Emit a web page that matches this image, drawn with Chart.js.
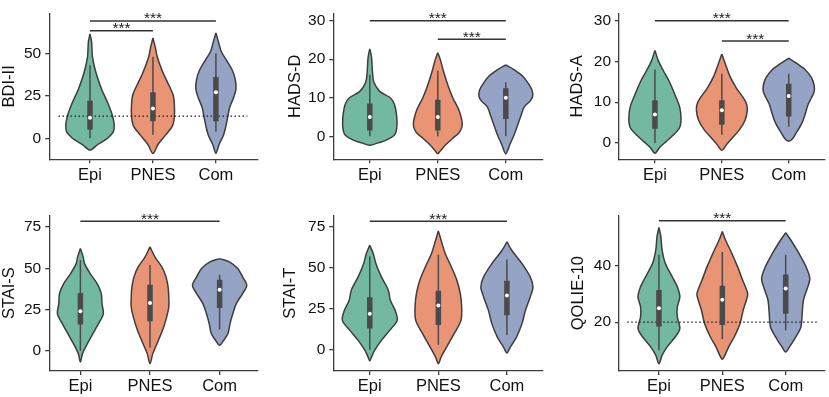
<!DOCTYPE html>
<html>
<head>
<meta charset="utf-8">
<script src="https://cdn.jsdelivr.net/npm/chart.js@4.4.1/dist/chart.umd.min.js"></script>
<style>
  html, body { margin: 0; padding: 0; background: #fff; }
  #wrap { position: relative; width: 829px; height: 397px; overflow: hidden; }
  .panel { position: absolute; }
</style>
</head>
<body>
<div id="wrap"></div>
<script>
const groups = ['Epi', 'PNES', 'Com'];
const fills = ['#73b9a2', '#e99575', '#95a3c4'];

// violin outlines: [value, half width in category units], top to bottom
const bdiEpi  = [[61.4,0],[56.8,.025],[47.6,.04],[38.5,.095],[29.3,.18],[20.1,.29],[12.8,.36],[7.3,.385],[3.7,.37],[0,.28],[-3.7,.12],[-7,0]];
const bdiPnes = [[59,0],[53,.04],[47.6,.07],[38.5,.16],[33,.23],[25.6,.32],[20,.34],[12.8,.34],[7.3,.31],[1.8,.2],[-3.7,.08],[-9,0]];
const bdiCom  = [[62,0],[56.8,.04],[51,.085],[45.8,.17],[40,.26],[35,.305],[29.3,.32],[23.8,.28],[18.3,.22],[12.8,.19],[7.3,.16],[1.8,.12],[-3.7,.05],[-8.8,0]];
const hadsdEpi  = [[22.7,0],[20.5,.025],[16.5,.04],[14,.06],[11.6,.15],[10,.3],[8.4,.36],[6,.39],[3.5,.4],[1.5,.39],[0.3,.36],[-0.9,.25],[-1.7,.12],[-2.3,0]];
const hadsdPnes = [[21.7,0],[19.7,.04],[16.5,.09],[13.2,.15],[10,.22],[6.8,.31],[3.1,.36],[1.1,.32],[-0.5,.22],[-2.1,.12],[-3.7,.04],[-4.5,0]];
const hadsdCom  = [[18.5,0],[17.3,.12],[15.6,.25],[14,.32],[12,.385],[10.4,.395],[9.2,.36],[7.6,.27],[5.2,.22],[2.7,.17],[0.3,.12],[-2.1,.06],[-4.5,0]];
const hadsaEpi  = [[22.7,0],[20.2,.05],[17.9,.12],[14.9,.22],[11.8,.3],[8.8,.37],[6.1,.39],[3.8,.37],[1.9,.27],[0.4,.17],[-1.1,.07],[-2.5,0]];
const hadsaPnes = [[21.8,0],[19.5,.05],[16.4,.12],[13.4,.22],[11.1,.32],[9.5,.37],[8,.38],[5.7,.35],[3.4,.27],[1.1,.15],[-0.4,.07],[-1.8,0]];
const hadsaCom  = [[20.8,0],[19.5,.12],[17.9,.25],[16,.34],[14.1,.38],[12.6,.38],[11.1,.34],[9.5,.29],[7.3,.25],[5,.2],[2.7,.12],[1.1,.06],[0.4,0]];
const staisEpi  = [[61.9,0],[56.9,.04],[52.8,.06],[46.8,.14],[40.7,.24],[34.7,.3],[28.6,.31],[22.6,.33],[16.5,.26],[10.5,.18],[4.4,.1],[-1.6,.03],[-6.7,0]];
const staisPnes = [[62.9,0],[56.9,.07],[50.8,.17],[44.8,.23],[38.7,.26],[32.7,.27],[26.6,.27],[20.6,.24],[12.5,.18],[4.4,.1],[-1.6,.04],[-7.7,0]];
const staisCom  = [[55.8,0],[53.8,.14],[49.8,.26],[44.8,.33],[39.7,.39],[34.7,.33],[28.6,.24],[22.6,.19],[16.5,.15],[10.5,.12],[6.5,.06],[3.4,0]];
const staitEpi  = [[63.7,0],[58.7,.05],[52.5,.09],[44.4,.17],[36.3,.27],[30.1,.3],[24,.37],[17.9,.4],[11.8,.29],[5.7,.17],[-0.4,.07],[-4.5,.025],[-6.9,0]];
const staitPnes = [[72.5,0],[66.8,.04],[58.7,.1],[50.5,.19],[42.4,.27],[34.2,.32],[26.1,.34],[17.9,.33],[9.8,.23],[1.6,.12],[-4.5,.04],[-8.6,0]];
const staitCom  = [[65.8,0],[60.7,.07],[52.5,.22],[44.4,.34],[38.3,.38],[32.2,.34],[24,.27],[15.9,.22],[7.7,.14],[1.6,.05],[-2,0]];
const qolEpi  = [[53.8,0],[50.5,.03],[45.7,.05],[41,.1],[36.2,.21],[32.6,.29],[29,.33],[25.5,.29],[21.9,.29],[17.7,.33],[14.8,.26],[11.2,.13],[8.2,.05],[5.2,0]];
const qolPnes = [[52.3,0],[49.3,.05],[44.5,.15],[39.8,.24],[35,.32],[30.2,.4],[27.9,.38],[24.3,.33],[19.5,.28],[14.8,.19],[11.2,.1],[8.2,.04],[6.8,0]];
const qolCom  = [[51.9,0],[49.3,.08],[44.5,.21],[39.8,.32],[35.6,.38],[32,.34],[27.9,.28],[23.1,.26],[18.3,.24],[14.8,.16],[11.2,.06],[9.4,0]];

// inner boxes: [whisker low, q1, median, q3, whisker high]
const bdiBox   = [[0,5,12,22,43],[2,10,17.5,27,48],[4,10,27,36,50]];
const hadsdBox = [[0,1.5,5,8.5,16],[0,1.5,5,9.5,17],[0,4.5,10,12.5,14]];
const hadsaBox = [[0,3.5,7,10.5,18],[2,4.5,8,10.5,17],[4,6.5,11.5,14.5,17]];
const staisBox = [[0,16,24,35,55],[2,18,29,40,52],[13,26,37,43,46]];
const staitBox = [[0,13,22,32,57],[3,15,27,36,58],[9,21,33,42,55]];
const qolBox   = [[10,18.5,25,31.5,44],[14,19,28,33,45],[17,23,32,37,44]];

// significance brackets: [from group, to group, height]
const bdiSig   = [[0,1,63.2],[0,2,69]];
const hadsdSig = [[0,2,30],[1,2,25.2]];
const hadsaSig = [[0,2,30],[1,2,25]];
const staisSig = [[0,2,78.4]];
const staitSig = [[0,2,78.4]];
const qolSig   = [[0,2,56.2]];

const bdiTicks = [0, 25, 50];
const hadsTicks = [0, 10, 20, 30];
const staiTicks = [0, 25, 50, 75];
const qolTicks = [20, 40];

const bdiCutoff = 13;
const qolCutoff = 20;

const panels = [
  { title: 'BDI-II',   violins: [bdiEpi, bdiPnes, bdiCom],       box: bdiBox,   sig: bdiSig,   ticks: bdiTicks,  cut: bdiCutoff, ymin: -12.4, ymax: 73.5, xmin: -0.648, xmax: 2.664 },
  { title: 'HADS-D',   violins: [hadsdEpi, hadsdPnes, hadsdCom], box: hadsdBox, sig: hadsdSig, ticks: hadsTicks, cut: null, ymin: -5.95, ymax: 31.9, xmin: -0.537, xmax: 2.537 },
  { title: 'HADS-A',   violins: [hadsaEpi, hadsaPnes, hadsaCom], box: hadsaBox, sig: hadsaSig, ticks: hadsTicks, cut: null, ymin: -4.0, ymax: 31.8, xmin: -0.537, xmax: 2.542 },
  { title: 'STAI-S',   violins: [staisEpi, staisPnes, staisCom], box: staisBox, sig: staisSig, ticks: staiTicks, cut: null, ymin: -12.1, ymax: 82, xmin: -0.448, xmax: 2.547 },
  { title: 'STAI-T',   violins: [staitEpi, staitPnes, staitCom], box: staitBox, sig: staitSig, ticks: staiTicks, cut: null, ymin: -13, ymax: 82, xmin: -0.532, xmax: 2.516 },
  { title: 'QOLIE-10', violins: [qolEpi, qolPnes, qolCom],       box: qolBox,   sig: qolSig,   ticks: qolTicks,  cut: qolCutoff, ymin: 2.6, ymax: 58.1, xmin: -0.63, xmax: 2.62 }
];

// where each panel sits on the page
const layout = [
  { left: 0,   top: 0,   w: 270, h: 195, yw: 49.2, xh: 35.7, padTop: 3,    padRight: 12.3, titlePad: 0 },
  { left: 280, top: 0,   w: 270, h: 195, yw: 53.3, xh: 35.7, padTop: 3,    padRight: 7.7,  titlePad: 6 },
  { left: 560, top: 0,   w: 269, h: 195, yw: 59,   xh: 35.7, padTop: 3,    padRight: 0,    titlePad: 8 },
  { left: 0,   top: 200, w: 270, h: 197, yw: 49.2, xh: 26,   padTop: 15.3, padRight: 12.3, titlePad: 0 },
  { left: 280, top: 200, w: 270, h: 197, yw: 53.3, xh: 26,   padTop: 15.3, padRight: 7.7,  titlePad: 1 },
  { left: 560, top: 200, w: 269, h: 197, yw: 59,   xh: 26,   padTop: 15.3, padRight: 2,    titlePad: 8.6 }
];

const FONT = "'Liberation Sans', Arial, Helvetica, sans-serif";
const ink = '#111';
const axisCol = '#3c3c3c';
const outline = '#3d3d3d';
const boxCol = '#4a4a4a';

Chart.defaults.font.family = FONT;

const starsPlugin = {
  id: 'stars',
  afterDatasetsDraw(chart, args, opts) {
    const { ctx, scales: { x, y } } = chart;
    ctx.save();
    ctx.font = '15.5px ' + FONT;
    ctx.fillStyle = '#1a1a1a';
    ctx.textAlign = 'center';
    ctx.textBaseline = 'alphabetic';
    opts.sig.forEach(([a, b, h]) => {
      const px = (x.getPixelForValue(a) + x.getPixelForValue(b)) / 2;
      ctx.fillText('***', px, y.getPixelForValue(h) + 2.5);
    });
    ctx.restore();
  }
};

const wrap = document.getElementById('wrap');

function makePanel(p, pos) {
  const div = document.createElement('div');
  div.className = 'panel';
  Object.assign(div.style, { left: pos.left + 'px', top: pos.top + 'px', width: pos.w + 'px', height: pos.h + 'px' });
  const cv = document.createElement('canvas');
  div.appendChild(cv);
  wrap.appendChild(div);

  const datasets = [];
  p.violins.forEach((v, i) => {
    const right = v.map(([y, w]) => ({ x: i + w, y }));
    const left = v.slice(0, -1).reverse().map(([y, w]) => ({ x: i - w, y }));
    datasets.push({
      data: right.concat(left), borderColor: outline, borderWidth: 1.5,
      backgroundColor: fills[i], fill: 'shape', tension: 0.3, pointRadius: 0, order: 5
    });
  });
  if (p.cut !== null) {
    datasets.push({
      data: [{ x: -0.5, y: p.cut }, { x: 2.5, y: p.cut }], borderColor: '#1a1a1a', borderWidth: 1.2,
      borderDash: [1.5, 2.5], fill: false, pointRadius: 0, order: 4
    });
  }
  p.box.forEach(([lo, q1, med, q3, hi], i) => {
    datasets.push({
      data: [{ x: i, y: lo }, { x: i, y: hi }], borderColor: boxCol, borderWidth: 1.5,
      fill: false, pointRadius: 0, order: 3
    });
    datasets.push({
      data: [{ x: i, y: q1 }, { x: i, y: q3 }], borderColor: boxCol, borderWidth: 5.5,
      borderCapStyle: 'butt', fill: false, pointRadius: 0, order: 2
    });
    datasets.push({
      data: [{ x: i, y: med }], showLine: false, pointRadius: 2, pointBorderWidth: 0,
      pointBackgroundColor: '#fff', order: 1
    });
  });
  p.sig.forEach(([a, b, h]) => {
    datasets.push({
      data: [{ x: a, y: h }, { x: b, y: h }], borderColor: '#333', borderWidth: 1.5,
      fill: false, pointRadius: 0, order: 0
    });
  });

  new Chart(cv, {
    type: 'line',
    data: { datasets },
    plugins: [starsPlugin],
    options: {
      responsive: true,
      maintainAspectRatio: false,
      animation: false,
      events: [],
      layout: { padding: { top: pos.padTop, right: pos.padRight, left: 0, bottom: 0 } },
      plugins: { legend: { display: false }, tooltip: { enabled: false }, stars: { sig: p.sig } },
      scales: {
        x: {
          type: 'linear', min: p.xmin, max: p.xmax,
          afterBuildTicks: s => { s.ticks = [0, 1, 2].map(v => ({ value: v })); },
          afterFit: s => { s.height = pos.xh; },
          ticks: { callback: v => groups[v], color: ink, font: { size: 16.5 }, padding: 2, autoSkip: false, maxRotation: 0 },
          grid: { drawOnChartArea: false, drawTicks: true, tickLength: 4, color: axisCol, lineWidth: 1.3 },
          border: { color: axisCol, width: 1.3 }
        },
        y: {
          type: 'linear', min: p.ymin, max: p.ymax,
          afterBuildTicks: s => { s.ticks = p.ticks.map(v => ({ value: v })); },
          afterFit: s => { s.width = pos.yw; },
          ticks: { color: ink, font: { size: 15.5 }, padding: 4 },
          grid: { drawOnChartArea: false, drawTicks: true, tickLength: 4, color: axisCol, lineWidth: 1.3 },
          border: { color: axisCol, width: 1.3 },
          title: { display: true, text: p.title, color: ink, font: { size: 16.5 }, padding: { top: pos.titlePad, bottom: 0 } }
        }
      }
    }
  });
}

panels.forEach((p, i) => makePanel(p, layout[i]));
</script>
</body>
</html>
